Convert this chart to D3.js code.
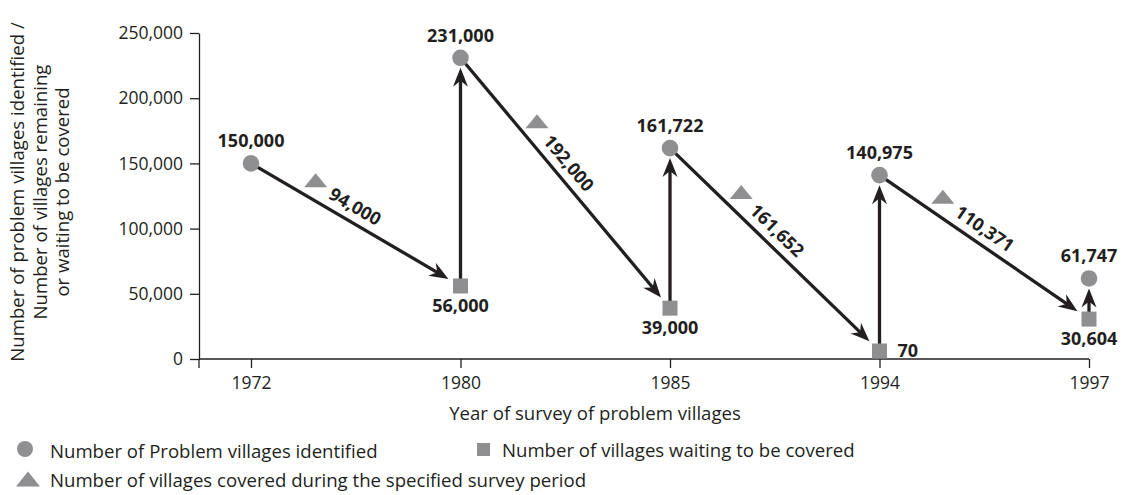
<!DOCTYPE html>
<html lang="en">
<head>
<meta charset="utf-8">
<style>
  body { margin: 0; background: #fff; }
  svg text { font-family: "Open Sans", sans-serif; fill: #231f20; }
  .axis text { font-size: 17.5px; }
  .axis path, .axis line { stroke: #231f20; stroke-width: 1.3; }
  .val { font-size: 18px; font-weight: bold; }
  .lbl { font-size: 18.6px; }
</style>
<script src="https://cdn.jsdelivr.net/npm/d3@7"></script>
</head>
<body>
<script>
// survey years and the counts
var years = ["1972", "1980", "1985", "1994", "1997"];
var identified = [150000, 231000, 161722, 140975, 61747];
var waiting = [null, 56000, 39000, 70, 30604];
var covered = [94000, 192000, 161652, 110371];   // between consecutive surveys
var yTicks = [0, 50000, 100000, 150000, 200000, 250000];

var ink = "#231f20", grey = "#8f8f91";

var svg = d3.select("body").append("svg")
    .attr("width", 1122)
    .attr("height", 495);

var x0 = 199;
var x = d3.scalePoint().domain(years).range([251, 1089]);
var y = d3.scaleLinear().domain([0, 250000]).range([359, 33]);
var fmt = d3.format(",");

// axes
var yAxis = svg.append("g")
    .attr("class", "axis")
    .attr("transform", "translate(" + x0 + ",0)")
    .call(d3.axisLeft(y).tickValues(yTicks).tickFormat(fmt)
        .tickSize(9).tickSizeOuter(0).tickPadding(7));
yAxis.append("line").attr("y1", y(0)).attr("y2", y(0) + 9);

var xAxis = svg.append("g")
    .attr("class", "axis")
    .attr("transform", "translate(0," + y(0) + ")")
    .call(d3.axisBottom(x).tickSize(9).tickSizeOuter(0).tickPadding(9));
xAxis.select(".domain").remove();
xAxis.append("line").attr("x1", x0).attr("x2", x(years[years.length - 1]));

svg.append("text")
    .attr("class", "lbl")
    .attr("x", 595).attr("y", 420)
    .attr("text-anchor", "middle")
    .text("Year of survey of problem villages");

var ytitle = svg.append("text")
    .attr("class", "lbl")
    .attr("text-anchor", "middle")
    .attr("transform", "translate(24,192) rotate(-90)");
["Number of problem villages identified /",
 "Number of villages remaining",
 "or waiting to be covered"].forEach(function(s, i) {
  ytitle.append("tspan").attr("x", 0).attr("dy", i ? 22.5 : 0).text(s);
});

// helpers
function sqY(v) { return Math.min(y(v), y(0) - 8); }

var arrows = svg.append("g");
function arrow(x1, y1, x2, y2, gap) {
  var dx = x2 - x1, dy = y2 - y1, L = Math.hypot(dx, dy);
  var ux = dx / L, uy = dy / L, nx = -uy, ny = ux;
  var tx = x2 - gap * ux, ty = y2 - gap * uy;
  arrows.append("line")
      .attr("x1", x1).attr("y1", y1)
      .attr("x2", tx - 12 * ux).attr("y2", ty - 12 * uy)
      .attr("stroke", ink).attr("stroke-width", 3.3);
  var pts = [
    [tx, ty],
    [tx - 19 * ux + 7.5 * nx, ty - 19 * uy + 7.5 * ny],
    [tx - 13 * ux, ty - 13 * uy],
    [tx - 19 * ux - 7.5 * nx, ty - 19 * uy - 7.5 * ny]
  ];
  arrows.append("path")
      .attr("d", "M" + pts.join("L") + "Z")
      .attr("fill", ink);
}

function triPath(w, h) {
  return "M0," + (-h / 2) + "L" + (w / 2) + "," + (h / 2) + "L" + (-w / 2) + "," + (h / 2) + "Z";
}

// diagonal arrows: identified -> waiting at next survey
covered.forEach(function(c, i) {
  var px = x(years[i]), py = y(identified[i]);
  var qx = x(years[i + 1]), qy = sqY(waiting[i + 1]);
  arrow(px, py, qx, qy, 14);

  var dx = qx - px, dy = qy - py, L = Math.hypot(dx, dy);
  var ux = dx / L, uy = dy / L, nx = uy, ny = -ux;
  var along = 0.46 * L;
  var t = svg.append("text")
      .attr("class", "val")
      .attr("text-anchor", "middle")
      .attr("dominant-baseline", "central")
      .attr("transform", "translate(" + (px + along * ux + 16 * nx) + "," + (py + along * uy + 16 * ny) +
            ") rotate(" + (Math.atan2(dy, dx) * 180 / Math.PI) + ")")
      .text(fmt(c));
  var tAlong = along - t.node().getComputedTextLength() / 2 - 19;
  svg.append("path")
      .attr("d", triPath(23, 14))
      .attr("fill", grey)
      .attr("transform", "translate(" + (px + tAlong * ux + 18 * nx) + "," + (py + tAlong * uy + 18 * ny) + ")");
});

// vertical arrows: waiting -> newly identified
years.forEach(function(yr, i) {
  if (waiting[i] == null) return;
  arrow(x(yr), sqY(waiting[i]), x(yr), y(identified[i]), 10);
});

// markers
svg.append("g").selectAll("circle")
    .data(years)
    .enter().append("circle")
    .attr("cx", function(d) { return x(d); })
    .attr("cy", function(d, i) { return y(identified[i]); })
    .attr("r", 8.3)
    .attr("fill", grey);

svg.append("g").selectAll("text")
    .data(years)
    .enter().append("text")
    .attr("class", "val")
    .attr("text-anchor", "middle")
    .attr("x", function(d) { return x(d); })
    .attr("y", function(d, i) { return y(identified[i]) - 16; })
    .text(function(d, i) { return fmt(identified[i]); });

var wy = years.filter(function(d, i) { return waiting[i] != null; });
var wv = waiting.filter(function(v) { return v != null; });

svg.append("g").selectAll("rect")
    .data(wv)
    .enter().append("rect")
    .attr("x", function(v, i) { return x(wy[i]) - 7.5; })
    .attr("y", function(v) { return sqY(v) - 7.5; })
    .attr("width", 15).attr("height", 15)
    .attr("fill", grey);

svg.append("g").selectAll("text")
    .data(wv)
    .enter().append("text")
    .attr("class", "val")
    .attr("text-anchor", function(v) { return v < 5000 ? "start" : "middle"; })
    .attr("x", function(v, i) { return x(wy[i]) + (v < 5000 ? 18 : 0); })
    .attr("y", function(v) { return sqY(v) + (v < 5000 ? 6 : 26); })
    .text(fmt);

// legend
var lg = svg.append("g");
lg.append("circle").attr("cx", 25).attr("cy", 449).attr("r", 8).attr("fill", grey);
lg.append("text").attr("class", "lbl").attr("x", 50).attr("y", 450)
    .attr("dominant-baseline", "central").text("Number of Problem villages identified");
lg.append("rect").attr("x", 477).attr("y", 443).attr("width", 13).attr("height", 13).attr("fill", grey);
lg.append("text").attr("class", "lbl").attr("x", 502).attr("y", 449)
    .attr("dominant-baseline", "central").text("Number of villages waiting to be covered");
lg.append("path").attr("d", triPath(24, 15)).attr("fill", grey)
    .attr("transform", "translate(28,479)");
lg.append("text").attr("class", "lbl").attr("x", 50).attr("y", 479)
    .attr("dominant-baseline", "central").text("Number of villages covered during the specified survey period");
</script>
</body>
</html>
